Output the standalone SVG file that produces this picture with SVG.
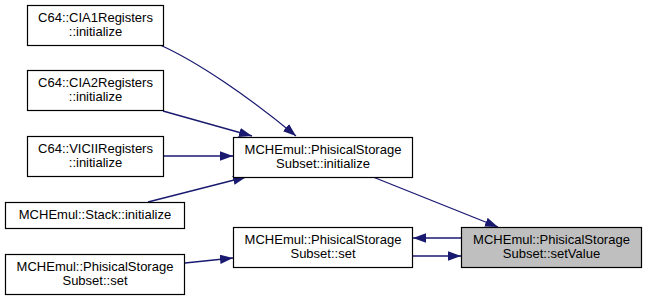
<svg xmlns="http://www.w3.org/2000/svg" width="647" height="300" viewBox="0 0 647 300">
  <style>
    .box { fill: #ffffff; stroke: #000000; stroke-width: 1.2; }
    .cur { fill: #bfbfbf; stroke: #000000; stroke-width: 1.2; }
    text { font-family: "Liberation Sans", Arial, sans-serif; font-size: 13px; fill: #000000; text-anchor: middle; }
    .edge { fill: none; stroke: #191970; stroke-width: 1.3; marker-end: url(#arrow); }
  </style>
  <defs>
    <marker id="arrow" markerUnits="userSpaceOnUse" markerWidth="14" markerHeight="11" refX="13" refY="4.7" orient="auto">
      <path d="M0,0 L13,4.7 L0,9.4 Z" fill="#191970"/>
    </marker>
  </defs>
  <rect width="647" height="300" fill="#ffffff"/>

  <g id="edges">
    <path class="edge" d="M160,45 C196,61 248,96 296,136"/>
    <path class="edge" d="M163,111 L252,136"/>
    <path class="edge" d="M163,156 L233,156"/>
    <path class="edge" d="M148,202 L246,177"/>
    <path class="edge" d="M185,263 L233,258"/>
    <path class="edge" d="M373,177 L498,227"/>
    <path class="edge" d="M461,238 L413,238"/>
    <path class="edge" d="M413,256 L461,256"/>
  </g>

  <g id="node-cia1">
    <rect class="box" x="27.5" y="5.5" width="136" height="40"/>
    <text x="95.5" y="21.5">C64::CIA1Registers</text>
    <text x="95.5" y="35.5">::initialize</text>
  </g>
  <g id="node-cia2">
    <rect class="box" x="27.5" y="70.5" width="136" height="40"/>
    <text x="95.5" y="86.5">C64::CIA2Registers</text>
    <text x="95.5" y="100.5">::initialize</text>
  </g>
  <g id="node-vicii">
    <rect class="box" x="27.5" y="136.5" width="136" height="40"/>
    <text x="95.5" y="152.5">C64::VICIIRegisters</text>
    <text x="95.5" y="166.5">::initialize</text>
  </g>
  <g id="node-stack">
    <rect class="box" x="5.5" y="202.5" width="179" height="26"/>
    <text x="95" y="219">MCHEmul::Stack::initialize</text>
  </g>
  <g id="node-set-caller">
    <rect class="box" x="5.5" y="254.5" width="179" height="40"/>
    <text x="95" y="270.5">MCHEmul::PhisicalStorage</text>
    <text x="95" y="284.5">Subset::set</text>
  </g>
  <g id="node-init">
    <rect class="box" x="233.5" y="137.5" width="179" height="40"/>
    <text x="323" y="153.5">MCHEmul::PhisicalStorage</text>
    <text x="323" y="167.5">Subset::initialize</text>
  </g>
  <g id="node-set">
    <rect class="box" x="233.5" y="227.5" width="179" height="40"/>
    <text x="323" y="243.5">MCHEmul::PhisicalStorage</text>
    <text x="323" y="257.5">Subset::set</text>
  </g>
  <g id="node-setvalue">
    <rect class="cur" x="461.5" y="227.5" width="180" height="40"/>
    <text x="551.5" y="243.5">MCHEmul::PhisicalStorage</text>
    <text x="551.5" y="257.5">Subset::setValue</text>
  </g>
</svg>
